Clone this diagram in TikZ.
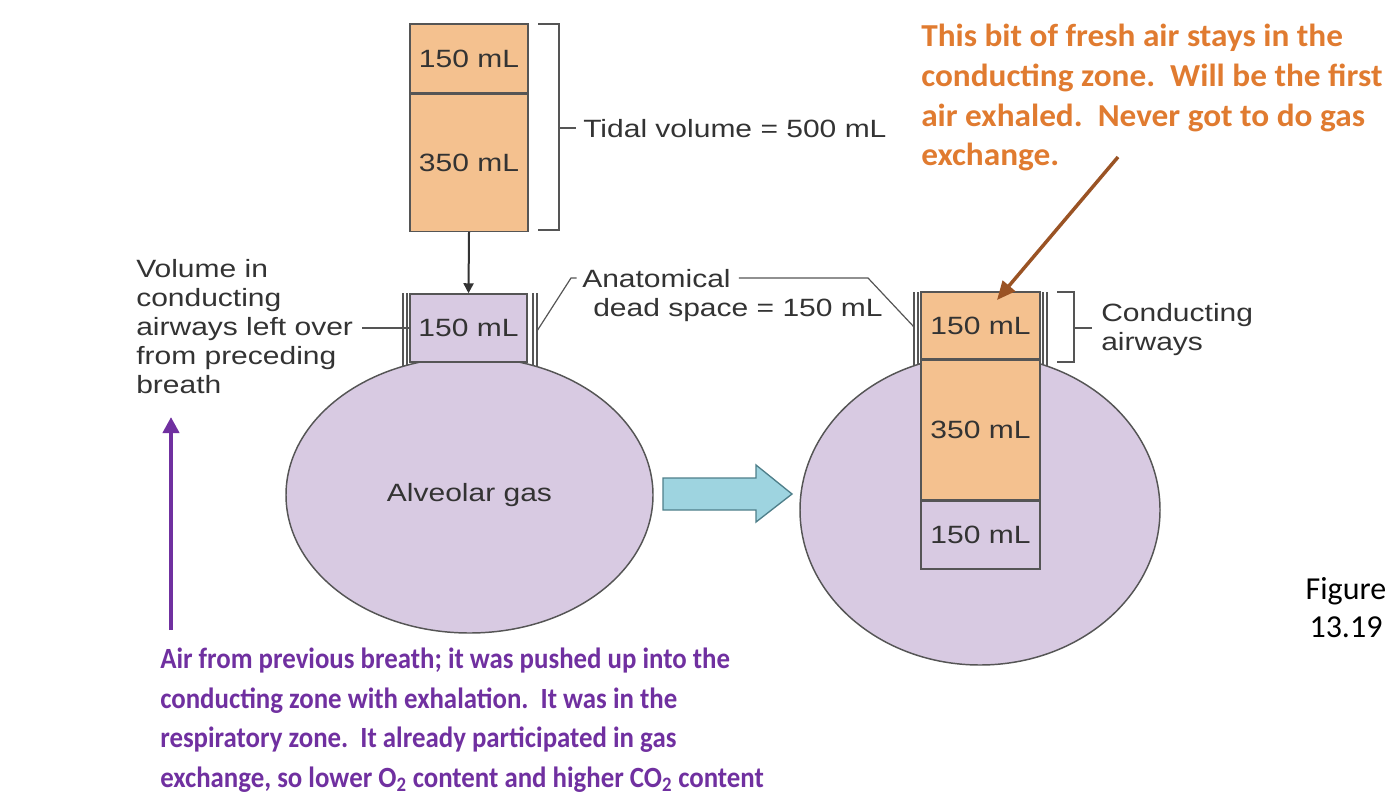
\documentclass[tikz,border=0pt]{standalone}
\usepackage{fontspec}
\usetikzlibrary{shapes.geometric,arrows.meta}
\setmainfont{Liberation Sans}
\newfontfamily\diagfont[FakeStretch=1.2]{Liberation Sans}
\newfontfamily\calfont{Carlito}
\newfontfamily\calwide[FakeStretch=1.04]{Carlito}
\newfontfamily\calnarrow[FakeStretch=0.915]{Carlito}
\definecolor{orangefill}{HTML}{F4C18F}
\definecolor{purplefill}{HTML}{D8CAE2}
\definecolor{outl}{HTML}{555555}
\definecolor{txtgray}{HTML}{333333}
\definecolor{bluefill}{HTML}{9ED4E0}
\definecolor{blueedge}{HTML}{4F7F8A}
\definecolor{orangetxt}{HTML}{E07B30}
\definecolor{purpletxt}{HTML}{7030A0}
\definecolor{brownarr}{HTML}{9A5324}
\begin{document}
\begin{tikzpicture}[x=0.75pt,y=-0.75pt,
  dtext/.style={font=\diagfont\fontsize{18.75}{21.75}\selectfont, text=txtgray, inner sep=0pt},
  volbox/.style={dtext, draw=outl, line width=1.1pt, minimum width=88.5pt},
  obox/.style={volbox, fill=orangefill},
  pbox/.style={volbox, fill=purplefill},
  bulb/.style={ellipse, draw=outl, fill=purplefill, line width=1.1pt, inner sep=0pt, dtext},
  wall/.style={draw=outl, line width=0.8pt},
  brk/.style={draw=outl, line width=0.9pt},
  note/.style={inner sep=0pt, align=left, anchor=north west}
]
\useasboundingbox (0,0) rectangle (1398,810);

% tidal volume column
\node[obox, minimum height=51.75pt] (tvA) at (469,58.5) {150 mL};
\node[obox, minimum height=102.75pt, anchor=north] (tvB) at (tvA.south) {350 mL};
\draw[brk] (538,24) -- (559,24) -- (559,230) -- (538,230);
\node[dtext, anchor=base west] (tidal) at (583,137) {Tidal volume = 500 mL};
\coordinate (tidtick) at (559,128);
\draw[brk] (tidtick) -- ([xshift=-5pt]tidal.west |- tidtick);

% left lung
\draw[wall] (403,293) -- (403,370) (407,293) -- (407,370) (533,293) -- (533,370) (537,293) -- (537,370);
\node[bulb, minimum width=275.25pt, minimum height=207pt] (ellL) at (469.5,495) {Alveolar gas};
\node[pbox, minimum width=87.75pt, minimum height=51pt] (neckL) at (468.5,328) {150 mL};
\draw[-{Triangle[length=7.5pt,width=7.5pt]}, line width=1.5pt, draw=txtgray, fill=txtgray] (tvB.south) -- (neckL.north);

% left label
\node[dtext, align=left, anchor=north west] (vol) at (136,259.5) {Volume in\\conducting\\airways left over\\from preceding\\breath};
\coordinate (volend) at (362,328);
\draw[brk] (volend) -- (neckL.west);

% dead space label
\node[dtext, anchor=base west] (anat) at (582,287) {Anatomical};
\node[dtext, anchor=base west] (dead) at (593,316) {dead space = 150 mL};
\coordinate (dsL) at (537,331);
\coordinate (dsR) at (914,327);
\draw[brk] (dsL) -- (571,278) -- ([xshift=-4pt]anat.west |- 0,278);
\draw[brk] ([xshift=6pt]anat.east |- 0,278) -- (868,278) -- (dsR);

% blue arrow
\draw[fill=bluefill, draw=blueedge, line width=1pt] (663,478) -- (756,478) -- (756,465) -- (792,494) -- (756,522) -- (756,510) -- (663,510) -- cycle;

% right lung
\draw[wall] (914,292) -- (914,372) (918,292) -- (918,372) (1043,292) -- (1043,372) (1047,292) -- (1047,372);
\node[bulb, minimum width=270pt, minimum height=232.5pt] (ellR) at (980,510) {};
\node[obox, minimum width=89.25pt, minimum height=50.25pt] (rA) at (980.5,325.5) {150 mL};
\node[obox, minimum width=89.25pt, minimum height=104.25pt, anchor=north] (rB) at (rA.south) {350 mL};
\node[pbox, minimum width=89.25pt, minimum height=51pt, anchor=north] (rC) at (rB.south) {150 mL};

% conducting airways bracket
\draw[brk] (1057,292) -- (1074,292) -- (1074,362) -- (1057,362);
\node[dtext, align=left, anchor=north west] (cond) at (1101,303.5) {Conducting\\airways};
\coordinate (condtick) at (1074,328);
\draw[brk] (condtick) -- (1092,328);

% orange note
\node[note, text=orangetxt, font=\calwide\bfseries\fontsize{24}{29.8}\selectfont] (onote) at (921,24) {This bit of fresh air stays in the\\conducting zone.\ \ Will be the first\\air exhaled.\ \ Never got to do gas\\exchange.};
\coordinate (oa0) at (1118,157);
\coordinate (oa1) at (997,300);
\draw[-{Triangle[length=14pt,width=12pt]}, line width=2.6pt, draw=brownarr, fill=brownarr] (oa0) -- (oa1);

% purple note
\node[note, text=purpletxt, font=\calnarrow\bfseries\fontsize{22}{29.6}\selectfont] (pnote) at (160,648) {Air from previous breath; it was pushed up into the\\conducting zone with exhalation.\ \ It was in the\\respiratory zone.\ \ It already participated in gas\\exchange, so lower O\textsubscript{2} content and higher CO\textsubscript{2} content};
\coordinate (pa0) at (171,630);
\coordinate (pa1) at (171,417);
\draw[-{Triangle[length=12pt,width=12pt]}, line width=3pt, draw=purpletxt, fill=purpletxt] (pa0) -- (pa1);

% figure label
\node[font=\calfont\fontsize{24}{28.5}\selectfont, align=center, anchor=north, inner sep=0pt] (fig) at (1346,577.6) {Figure\\13.19};
\end{tikzpicture}
\end{document}
